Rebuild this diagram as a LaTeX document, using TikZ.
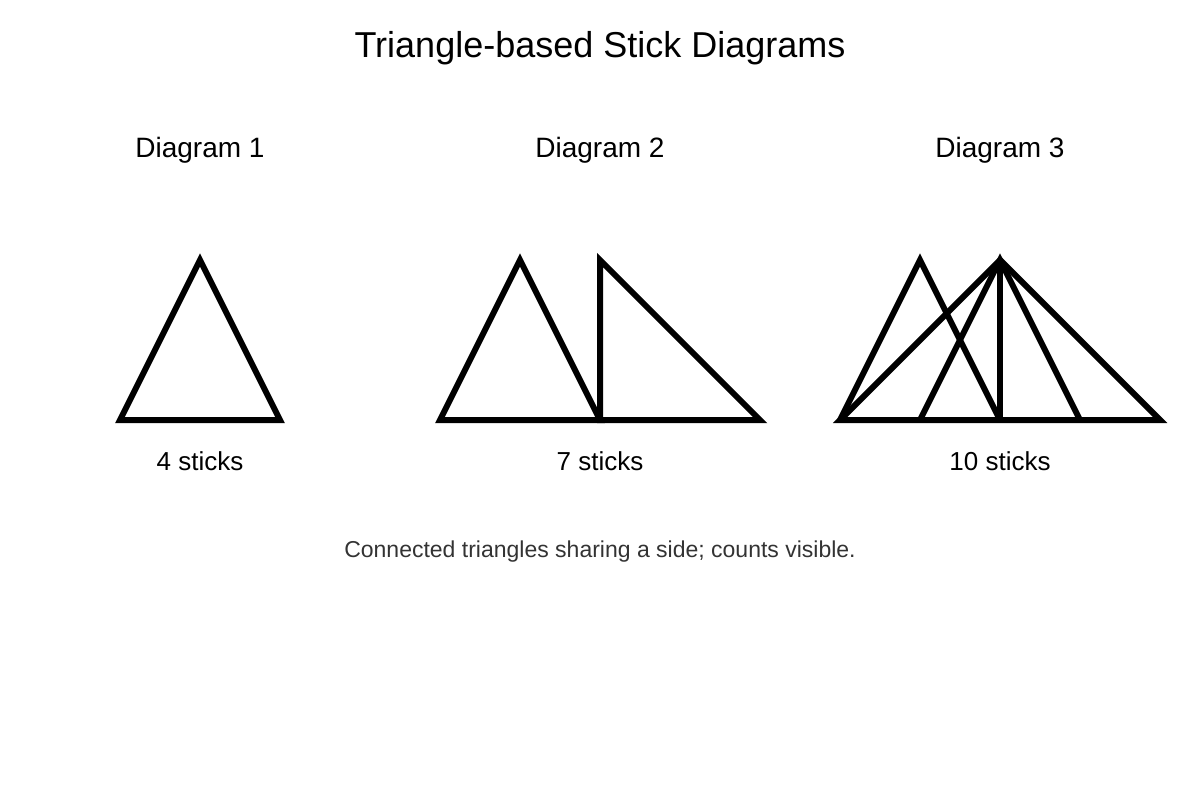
\documentclass[tikz,border=0pt]{standalone}
\usepackage{fontspec}
\setmainfont{Liberation Sans}
\begin{document}
\begin{tikzpicture}[x=1pt,y=-1pt,
  stick/.style={line width=6pt,line join=miter,black},
  lbl/.style={font=\fontsize{28}{32}\selectfont},
  cnt/.style={font=\fontsize{26}{30}\selectfont},
]
\useasboundingbox (0,0) rectangle (1200,800);
\node[font=\fontsize{36}{40}\selectfont] (title) at (600,48) {Triangle-based Stick Diagrams};
\node[lbl] (l1) at (200,150) {Diagram 1};
\node[lbl] (l2) at (600,150) {Diagram 2};
\node[lbl] (l3) at (1000,150) {Diagram 3};
\node[cnt] (c1) at (200,461) {4 sticks};
\node[cnt] (c2) at (600,461) {7 sticks};
\node[cnt] (c3) at (1000,461) {10 sticks};
\node[font=\fontsize{23}{27}\selectfont,text=black!80] (cap) at (600,552) {Connected triangles sharing a side; counts visible.};
% diagram 1
\coordinate (a1) at (120,420); \coordinate (a2) at (200,260); \coordinate (a3) at (280,420);
\draw[stick] (a1) -- (a2) -- (a3) -- cycle;
% diagram 2
\coordinate (b1) at (440,420); \coordinate (b2) at (520,260); \coordinate (b3) at (600,420);
\coordinate (b4) at (600,260); \coordinate (b5) at (760,420);
\draw[stick] (b1) -- (b2) -- (b3) -- cycle;
\draw[stick] (b4) -- (b3) -- (b5) -- cycle;
% diagram 3
\coordinate (d1) at (840,420); \coordinate (d2) at (920,260); \coordinate (d3) at (1000,420);
\coordinate (d4) at (920,420); \coordinate (d5) at (1000,260); \coordinate (d6) at (1080,420);
\coordinate (d7) at (1160,420);
\draw[stick] (d1) -- (d2) -- (d3);
\draw[stick] (d4) -- (d5) -- (d6);
\draw[stick] (d5) -- (d3);
\draw[stick] (d5) -- (d7) -- (d1) -- cycle;
\end{tikzpicture}
\end{document}
